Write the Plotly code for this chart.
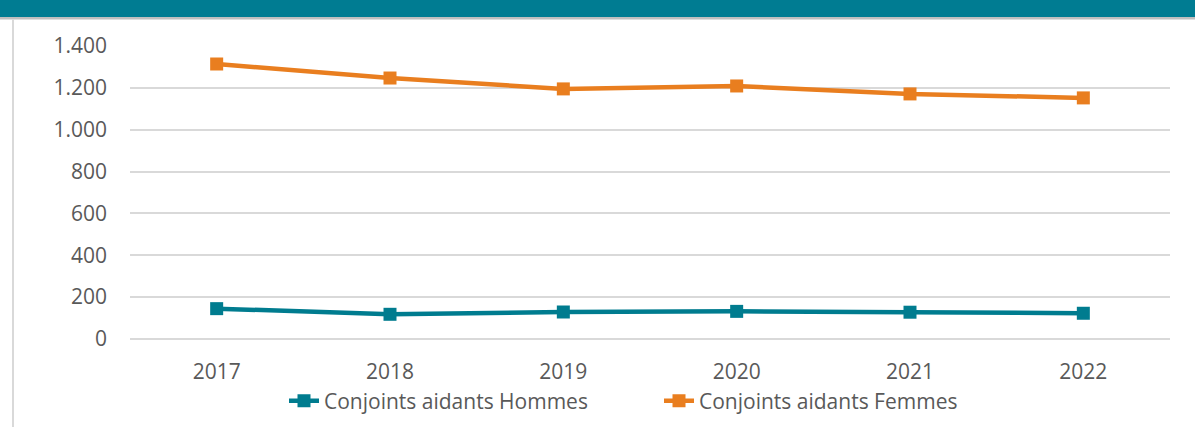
import plotly.graph_objects as go

# Données
annees = ["2017", "2018", "2019", "2020", "2021", "2022"]
hommes = [145, 118, 129, 132, 128, 123]
femmes = [1314, 1247, 1195, 1209, 1171, 1152]

teal = "#007C8F"
orange = "#E97E1F"
gris_texte = "#595959"
gris_grille = "#D9D9D9"

fig = go.Figure()
fig.add_trace(go.Scatter(
    x=annees, y=hommes, name="Conjoints aidants Hommes",
    mode="lines+markers",
    line=dict(color=teal, width=4.5),
    marker=dict(symbol="square", size=13, color=teal),
))
fig.add_trace(go.Scatter(
    x=annees, y=femmes, name="Conjoints aidants Femmes",
    mode="lines+markers",
    line=dict(color=orange, width=4.5),
    marker=dict(symbol="square", size=13, color=orange),
))

# bandeau de titre (texte coupé dans l'original) + bordure gauche
W, H = 1195, 427
L, R, T, B = 130, 25, 46, 88
pw, ph = W - L - R, H - T - B


def px_x(x):
    return (x - L) / pw


def px_y(y):
    return (H - B - y) / ph


shapes = [
    dict(type="rect", xref="paper", yref="paper",
         x0=px_x(-2), x1=px_x(W + 2), y0=px_y(17), y1=px_y(-2),
         fillcolor="#007C92", line_width=0, layer="above"),
    dict(type="rect", xref="paper", yref="paper",
         x0=px_x(-2), x1=px_x(W + 2), y0=px_y(19.5), y1=px_y(17),
         fillcolor="#BFBFBF", line_width=0, layer="above"),
    dict(type="line", xref="paper", yref="paper",
         x0=px_x(13), x1=px_x(13), y0=px_y(19.5), y1=px_y(H + 2),
         line=dict(color=gris_grille, width=2)),
]

fig.update_layout(
    width=W, height=H,
    margin=dict(l=L, r=R, t=T, b=B, autoexpand=False),
    plot_bgcolor="white", paper_bgcolor="white",
    font=dict(family="Open Sans", size=21, color=gris_texte),
    separators=",.",
    showlegend=True,
    legend=dict(orientation="h", x=px_x(284), xanchor="left",
                y=px_y(401), yanchor="middle",
                entrywidth=330, entrywidthmode="pixels",
                font=dict(size=21, color=gris_texte),
                bgcolor="rgba(0,0,0,0)"),
    shapes=shapes,
)
fig.update_xaxes(range=[-0.5, 5.5], showgrid=False, showline=False,
                 ticks="", ticklabelstandoff=18, automargin=False)
fig.update_yaxes(range=[0, 1400], dtick=200, tickformat=",d",
                 showgrid=True, gridcolor=gris_grille, gridwidth=2,
                 zeroline=True, zerolinecolor=gris_grille, zerolinewidth=2,
                 showline=False, ticks="", ticklabelstandoff=22,
                 automargin=False)

js = (
    "document.documentElement.style.margin='0';"
    "document.documentElement.style.overflow='hidden';"
    "document.body.style.margin='0';"
    "document.body.style.overflow='hidden';"
)
fig.write_html("out.html", config={"displayModeBar": False}, post_script=js)
